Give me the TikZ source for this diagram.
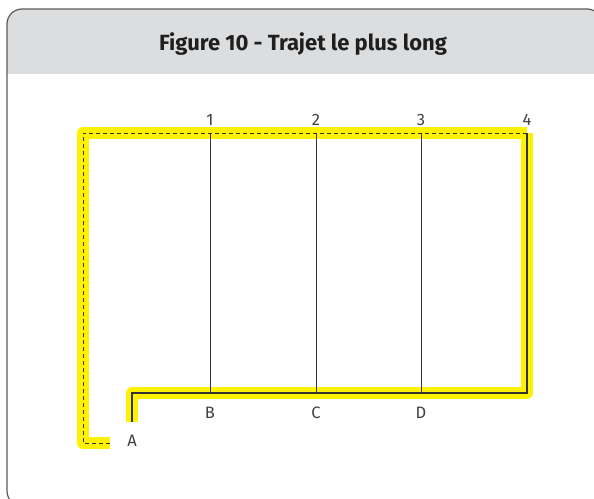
\documentclass[tikz,border=0pt]{standalone}
\usepackage{fontspec}
\setmainfont{Fira Sans}
\definecolor{hlyellow}{HTML}{FFF200}
\definecolor{headgray}{HTML}{DCDDDF}
\definecolor{framegray}{HTML}{5A5A5A}
\definecolor{linegray}{HTML}{333333}
\definecolor{labelgray}{HTML}{404040}
\begin{document}
\begin{tikzpicture}[x=1pt,y=-1pt,
  hl/.style={draw=hlyellow, line width=12pt, line join=round, line cap=butt},
  dashroute/.style={draw=linegray, line width=0.9pt, dash pattern=on 4pt off 3pt},
  solidroute/.style={draw=linegray, line width=1.3pt},
  rung/.style={draw=linegray, line width=0.8pt},
  lbl/.style={font=\fontsize{16.5}{16.5}\selectfont, text=labelgray, inner sep=0pt},
  title/.style={font=\fontsize{22}{22}\selectfont\bfseries, text=black!88, inner sep=0pt, anchor=base}]
\useasboundingbox (0,0) rectangle (594,498);
% frame and header
\begin{scope}
  \clip[rounded corners=15pt] (7,9) rectangle (602,506);
  \fill[headgray] (0,0) rectangle (610,74);
\end{scope}
\draw[framegray, line width=1.2pt, rounded corners=15pt] (7,9) rectangle (602,506);
\node[title] (ttl) at (303,50) {Figure 10 - Trajet le plus long};
% route points
\coordinate (a0) at (110,443);
\coordinate (a1) at (83,443);
\coordinate (tl) at (83,133);
\coordinate (n1) at (210,133);
\coordinate (n2) at (316,133);
\coordinate (n3) at (421,133);
\coordinate (n4) at (527,133);
\coordinate (br) at (527,393);
\coordinate (d) at (421,393);
\coordinate (c) at (316,393);
\coordinate (b) at (210,393);
\coordinate (bl) at (132,393);
\coordinate (a2) at (132,422);
% highlight
\draw[hl] (a0) -- (a1) -- (tl) -- (n4);
\draw[hl] (n4) -- (br) -- (bl) -- (a2);
% lines
\draw[rung] (n1) -- (b);
\draw[rung] (n2) -- (c);
\draw[rung] (n3) -- (d);
\draw[dashroute] (a0) -- (a1) -- (tl) -- (n4);
\draw[solidroute] (n4) -- (br) -- (bl) -- (a2);
% labels
\node[lbl] (l1) at (210,120) {1};
\node[lbl] (l2) at (316,120) {2};
\node[lbl] (l3) at (421,120) {3};
\node[lbl] (l4) at (527,120) {4};
\node[lbl] (lB) at (210,413) {B};
\node[lbl] (lC) at (316,413) {C};
\node[lbl] (lD) at (421,413) {D};
\node[lbl] (lA) at (132,441) {A};
\end{tikzpicture}
\end{document}
